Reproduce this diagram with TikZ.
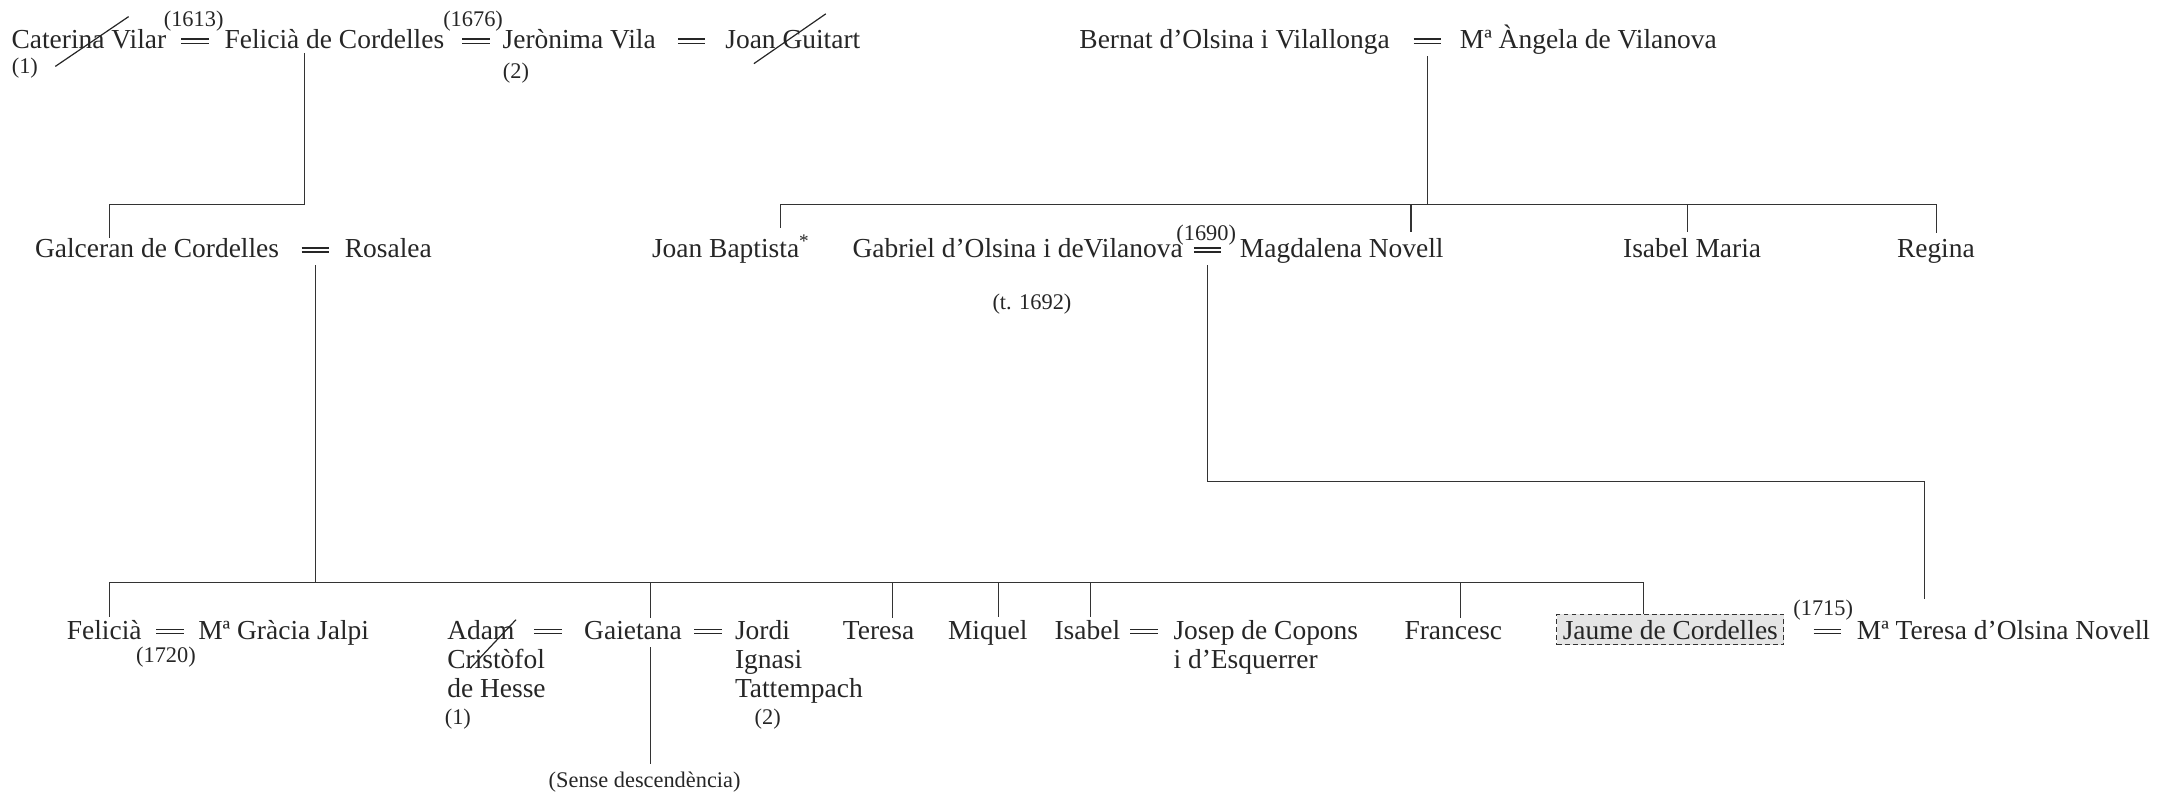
\documentclass[tikz,border=0pt]{standalone}
\usepackage{fontspec}
\setmainfont{Liberation Serif}
\usetikzlibrary{positioning}

% marriage sign, two thin rules
\newcommand\wedsign{\rlap{\rule[1.9pt]{0.4cm}{0.5pt}}\rule[3.6pt]{0.4cm}{0.5pt}}

\begin{document}
\begin{tikzpicture}[
  x=0.02cm, y=-0.02cm,
  every node/.style={text=black!85},
  person/.style={anchor=base west, inner sep=0pt, font=\fontsize{11.3}{11.9}\selectfont},
  wed/.style={anchor=base, inner sep=0pt},
  note/.style={anchor=base, inner sep=0pt, font=\fontsize{9.2}{10}\selectfont},
  line/.style={draw=black!80, line width=0.45pt},
  strike/.style={draw=black!85, line width=0.5pt},
  focus/.style={person, draw=black!80, dash pattern=on 2pt off 1.3pt, fill=gray!20, inner xsep=2.5pt, minimum height=0.44cm}
]
\useasboundingbox (0,0) rectangle (1568,575);

% First generation
\node[person] (cat) at (8,35) {Caterina Vilar};
\node[wed] (catfel) at (141,35) {\wedsign};
\node[person] (fel) at (162,35) {Felicià de Cordelles};
\node[wed] (feljer) at (344,35) {\wedsign};
\node[person] (jer) at (363,35) {Jerònima Vila};
\node[wed] (jerjoan) at (500,35) {\wedsign};
\node[person] (joang) at (524,35) {Joan Guitart};
\node[note] (y1613) at (140,19) {(1613)};
\node[note] (y1676) at (342,19) {(1676)};
\node[note] (cat1) at (18,53) {(1)};
\node[note] (jer2) at (373,57) {(2)};

\node[person] (bernat) at (780,35) {Bernat d’Olsina i Vilallonga};
\node[wed] (berang) at (1032,35) {\wedsign};
\node[person] (angela) at (1055,35) {Mª Àngela de Vilanova};

% Second generation
\node[person] (gal) at (25,186) {Galceran de Cordelles};
\node[wed] (galros) at (228,186) {\wedsign};
\node[person] (ros) at (249,186) {Rosalea};

\node[person] (jbap) at (471,186) {Joan Baptista\textsuperscript{*}};
\node[person] (gab) at (616,186) {Gabriel d’Olsina i deVilanova};
\node[wed] (gabmag) at (873,186) {\wedsign};
\node[person] (mag) at (896,186) {Magdalena Novell};
\node[note] (y1690) at (872,174) {(1690)};
\node[note] (t1692) at (746,224) {(t. 1692)};
\node[person] (isam) at (1173,186) {Isabel Maria};
\node[person] (reg) at (1371,186) {Regina};

% Third generation (multi-line names sit on their last baseline)
\node[person] (feli) at (48,462) {Felicià};
\node[wed] (feligra) at (123,462) {\wedsign};
\node[person] (gracia) at (143,462) {Mª Gràcia Jalpi};
\node[note] (y1720) at (120,479) {(1720)};

\node[person, align=left] (adam) at (323,504) {Adam\\Cristòfol\\de Hesse};
\node[note] (adam1) at (331,524) {(1)};
\node[wed] (adagai) at (396,462) {\wedsign};
\node[person] (gaie) at (422,462) {Gaietana};
\node[wed] (gaijor) at (512,462) {\wedsign};
\node[person, align=left] (jordi) at (531,504) {Jordi\\Ignasi\\Tattempach};
\node[note] (jordi2) at (555,524) {(2)};
\node[note] (sense) at (466,569) {(Sense descendència)};

\node[person] (ter) at (609,462) {Teresa};
\node[person] (miq) at (685,462) {Miquel};
\node[person] (isa) at (762,462) {Isabel};
\node[wed] (isajos) at (827,462) {\wedsign};
\node[person, align=left] (josep) at (848,483) {Josep de Copons\\i d’Esquerrer};
\node[person] (fra) at (1015,462) {Francesc};

\node[focus] (jaume) at (1125,462) {Jaume de Cordelles};
\node[wed] (jaumter) at (1321,462) {\wedsign};
\node[note] (y1715) at (1318,445) {(1715)};
\node[person] (mter) at (1342,462) {Mª Teresa d’Olsina Novell};

% Struck-out spouses
\draw[strike] (40,48) -- (93,12);
\draw[strike] (545,46) -- (597,10);
\draw[strike] (340,483) -- (373,448);

% Lines of descent
\draw[line, shorten <=1.5pt] (220,0 |- fel.south) -- (220,148) -| (79,0 |- gal.north);

\draw[line, shorten <=3pt] (berang.south) -- (berang |- 0,148);
\draw[line] (564,148) -- (1400,148);
\foreach \kid/\x in {jbap/564, mag/1020, isam/1220, reg/1400}
  \draw[line, shorten >=2.5pt] (\x,148) -- (\x,0 |- \kid.north);

\draw[line, shorten <=3pt] (galros.south) -- (galros |- 0,421);
\draw[line] (79,421) -- (1188,421);
\foreach \kid/\x in {feli/79, gaie/470, ter/645, miq/722, isa/788, fra/1056}
  \draw[line, shorten >=1pt] (\x,421) -- (\x,0 |- \kid.north);
\draw[line] (1188,421) -- (1188,0 |- jaume.north);

\draw[line, shorten <=3pt, shorten >=3pt] (470,0 |- gaie.south) -- (470,0 |- sense.north);

\draw[line, shorten <=3pt, shorten >=8.5pt] (gabmag.south) -- (gabmag |- 0,348) -| (1391,0 |- mter.north);

\end{tikzpicture}
\end{document}
